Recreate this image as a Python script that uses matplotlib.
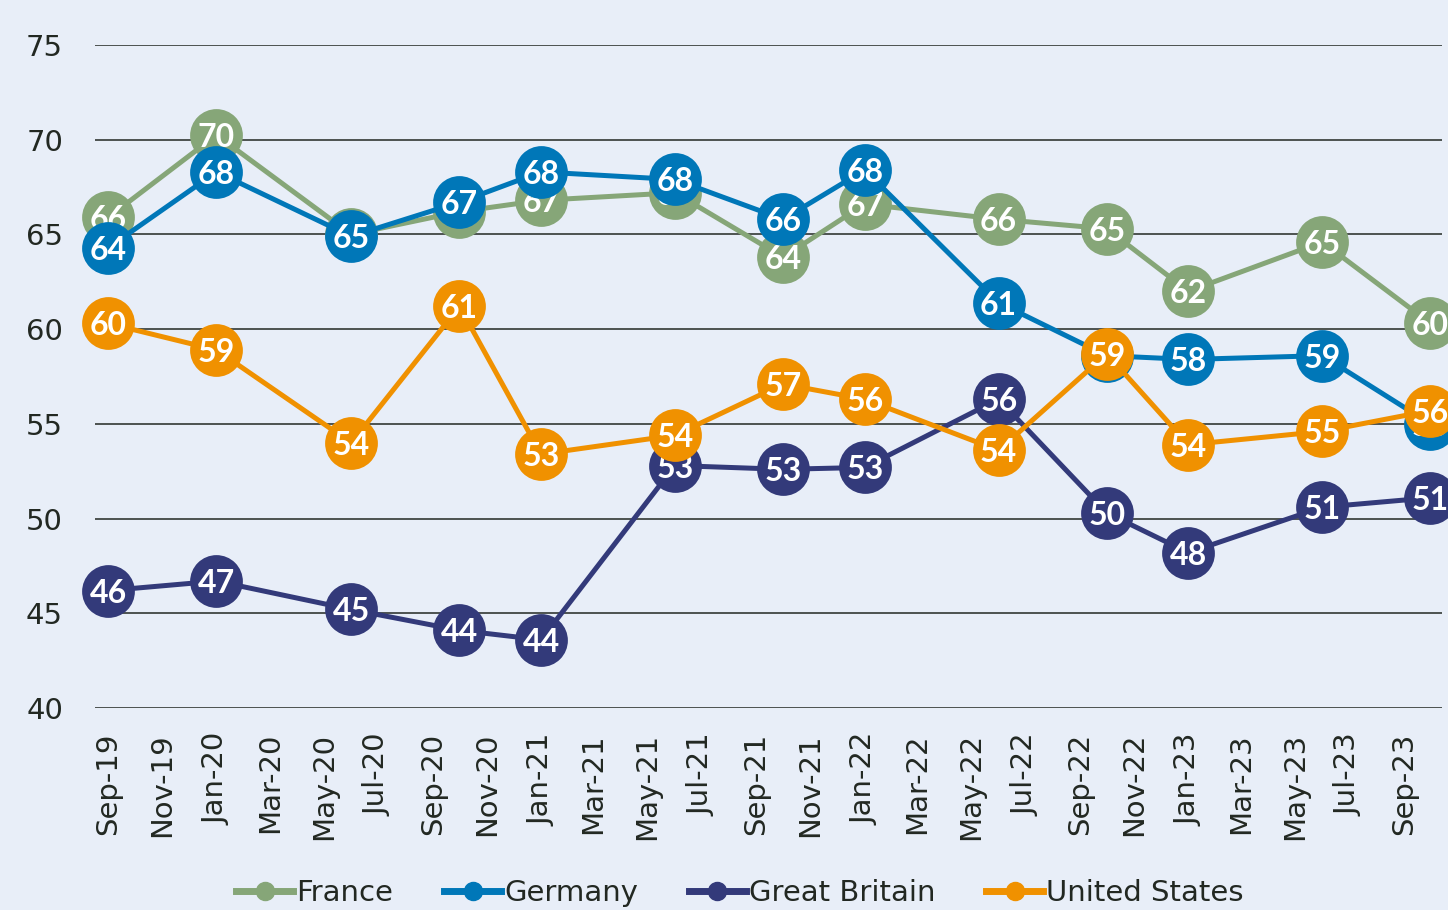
import numpy as np
import pandas as pd
import matplotlib
matplotlib.use("Agg")
import matplotlib.pyplot as plt
import matplotlib.dates as mdates
from matplotlib.lines import Line2D

plt.rcParams['font.family'] = ['DejaVu Sans']

# survey waves
dates = pd.to_datetime(['2019-09-01', '2020-01-01', '2020-06-01', '2020-10-01',
                        '2021-01-01', '2021-06-01', '2021-10-01', '2022-01-01',
                        '2022-06-01', '2022-10-01', '2023-01-01', '2023-06-01',
                        '2023-10-01'])

france = [65.9, 70.25, 65.0, 66.2, 66.8, 67.2, 63.8, 66.6, 65.8, 65.3, 62.0, 64.6, 60.3]
germany = [64.3, 68.3, 64.9, 66.7, 68.3, 67.9, 65.8, 68.4, 61.4, 58.6, 58.4, 58.6, 55.0]
britain = [46.2, 46.7, 45.2, 44.1, 43.6, 52.8, 52.6, 52.7, 56.3, 50.3, 48.2, 50.6, 51.1]
usa = [60.3, 58.9, 54.0, 61.2, 53.4, 54.4, 57.1, 56.3, 53.6, 58.7, 53.9, 54.6, 55.7]

series = ['France', 'Germany', 'Great Britain', 'United States']
values = [france, germany, britain, usa]
colors = ['#86A678', '#0077B8', '#333A7A', '#F09100']

bg = '#E8EEF8'
ink = '#222822'
fig = plt.figure(figsize=(14.48, 9.10), dpi=100, facecolor=bg)
ax = fig.add_axes([95/1448, 202/910, (1442-95)/1448, (708-45)/910])
ax.set_facecolor(bg)

for i, (name, vals, col) in enumerate(zip(series, values, colors)):
    z = 3 + i
    ax.plot(dates, vals, color=col, lw=3.6, marker='o', markersize=38,
            markeredgewidth=0, zorder=z, clip_on=False, solid_capstyle='round')
    for d, v in zip(dates, vals):
        ax.text(d, v, f'{round(v):d}', color='white', fontsize=23, fontweight='bold',
                family='Lato', ha='center', va='center_baseline', zorder=z + 0.5,
                clip_on=False)

ax.set_ylim(40, 75)
ax.set_yticks(np.arange(40, 76, 5))
ax.set_xlim(pd.Timestamp('2019-08-17'), pd.Timestamp('2023-10-14'))
ax.xaxis.set_major_locator(mdates.MonthLocator(bymonth=[1, 3, 5, 7, 9, 11]))
ax.xaxis.set_major_formatter(mdates.DateFormatter('%b-%y'))
ax.grid(axis='y', color=ink, lw=1.1, zorder=1)
ax.set_axisbelow(True)
for s in ax.spines.values():
    s.set_visible(False)
ax.tick_params(axis='both', length=0, labelsize=21, colors=ink)
ax.tick_params(axis='y', pad=23)
ax.tick_params(axis='x', pad=18)
plt.setp(ax.get_xticklabels(), rotation=90)

handles = [Line2D([], [], color=c, lw=5, marker='o', markersize=13) for c in colors]
fig.legend(handles, series, loc='center', bbox_to_anchor=(740/1448, 1 - 893/910),
           ncol=4, frameon=False, fontsize=21, handlelength=1.95, handletextpad=0.1,
           columnspacing=1.75, labelcolor=ink)

fig.savefig('out.png', dpi=100, facecolor=bg)
